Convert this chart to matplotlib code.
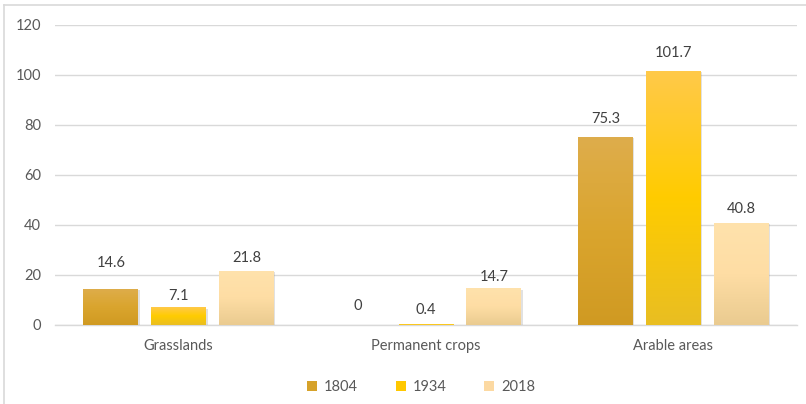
import numpy as np
import matplotlib
matplotlib.use("Agg")
import matplotlib.pyplot as plt
from matplotlib.colors import LinearSegmentedColormap
from matplotlib.patches import Patch
from matplotlib.lines import Line2D
import matplotlib.patheffects as pe

categories = ["Grasslands", "Permanent crops", "Arable areas"]
years = ["1804", "1934", "2018"]
values_1804 = [14.6, 0, 75.3]
values_1934 = [7.1, 0.4, 101.7]
values_2018 = [21.8, 14.7, 40.8]
y_ticks = [0, 20, 40, 60, 80, 100, 120]

series = [values_1804, values_1934, values_2018]
# gradient stops (top -> bottom) for each series
gradients = [
    ["#DEAD4C", "#DAA52E", "#D09A22"],
    ["#FFC94A", "#FFCC00", "#E9BE22"],
    ["#FFE2AC", "#FEDDA4", "#EACB90"],
]
legend_colors = ["#D6A22A", "#FFC800", "#FCD9A2"]
# extra vertical gap (points) of each value label above its bar
label_gaps = [
    [13, 9, 8],
    [3, 5, 8],
    [4, 3, 5],
]

plt.rcParams["font.family"] = ["Lato", "DejaVu Sans"]
fig = plt.figure(figsize=(8.06, 4.04), dpi=100)
ax = fig.add_axes([55 / 806, 79 / 404, 742 / 806, 300 / 404])

x = np.arange(len(categories))
width = 0.222
step = 0.274

for i, vals in enumerate(series):
    bars = ax.bar(x + (i - 1) * step, vals, width, color=gradients[i][1],
                  zorder=3, linewidth=0)
    cmap = LinearSegmentedColormap.from_list(f"g{i}", gradients[i][::-1])
    grad = np.linspace(0, 1, 256).reshape(-1, 1)
    for b, v, gap in zip(bars, vals, label_gaps[i]):
        bx, by = b.get_x(), b.get_y()
        bw, bh = b.get_width(), b.get_height()
        b.set_path_effects([pe.SimplePatchShadow(offset=(1.0, -1.0),
                                                 shadow_rgbFace="#8a8a8a",
                                                 alpha=0.25),
                            pe.Normal()])
        if bh > 0:
            im = ax.imshow(grad, cmap=cmap, aspect="auto", origin="lower",
                           extent=[bx, bx + bw, by, by + bh], zorder=4,
                           interpolation="bilinear")
            im.set_clip_path(b)
        ax.annotate(f"{v:g}", (bx + bw / 2, bh), xytext=(0, gap),
                    textcoords="offset points", ha="center", va="bottom",
                    fontsize=10.5, color="#404040", zorder=5)

ax.set_xlim(-0.5, 2.5)
ax.set_ylim(0, 120)
ax.set_yticks(y_ticks)
ax.set_xticks(x)
ax.set_xticklabels(categories)
ax.tick_params(axis="both", length=0, labelsize=10.5, colors="#595959")
ax.tick_params(axis="y", pad=10)
ax.tick_params(axis="x", pad=10)
ax.grid(axis="y", color="#D9D9D9", linewidth=1, zorder=0)
ax.set_axisbelow(True)
for s in ["top", "right", "left"]:
    ax.spines[s].set_visible(False)
ax.spines["bottom"].set_color("#D9D9D9")
ax.spines["bottom"].set_linewidth(1)

handles = [Patch(facecolor=c, edgecolor="none") for c in legend_colors]
fig.legend(handles, years, loc="center", bbox_to_anchor=(421 / 806, 1 - 387 / 404),
           ncol=3, frameon=False, fontsize=10.5, labelcolor="#595959",
           handlelength=0.7, handleheight=0.7, handletextpad=0.45,
           columnspacing=2.6)

# outer chart frame (left and top edges)
fig.add_artist(Line2D([4 / 806, 4 / 806], [0, 1 - 5 / 404], color="#D9D9D9",
                      linewidth=1.2, transform=fig.transFigure))
fig.add_artist(Line2D([4 / 806, 1], [1 - 5 / 404, 1 - 5 / 404], color="#D9D9D9",
                      linewidth=1.2, transform=fig.transFigure))

fig.savefig("out.png", dpi=100)
